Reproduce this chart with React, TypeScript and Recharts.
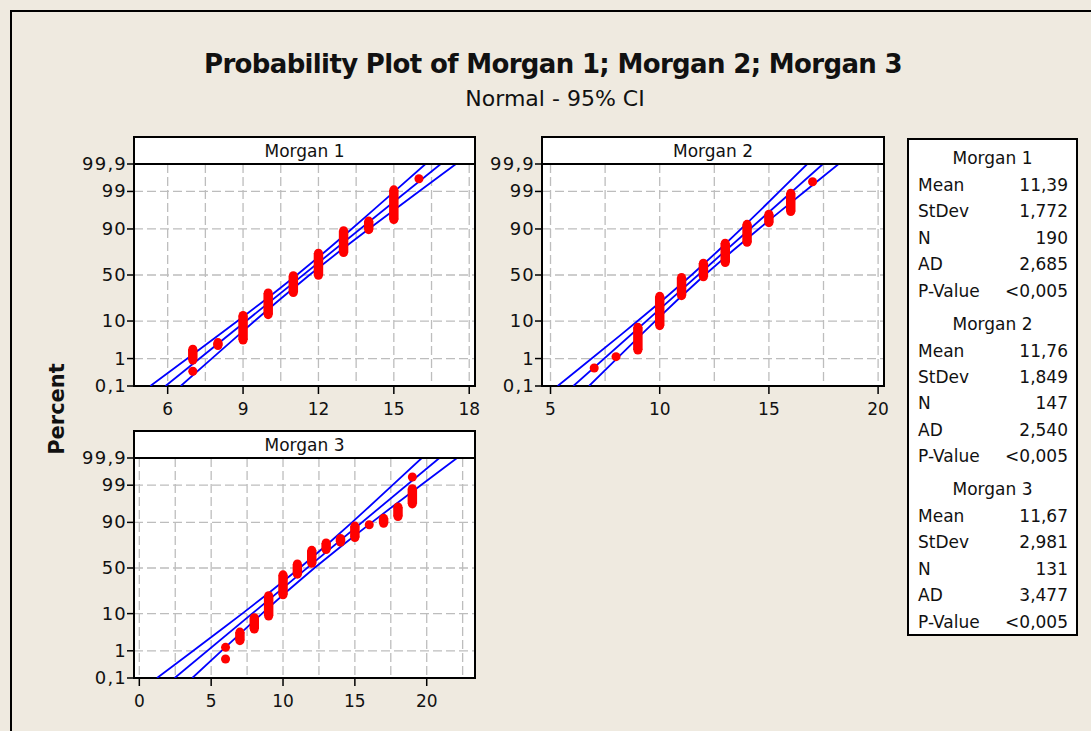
import {
  CartesianGrid,
  ComposedChart,
  Line,
  ReferenceArea,
  Scatter,
  XAxis,
  YAxis,
} from "recharts";

const FONT = '"DejaVu Sans", Verdana, sans-serif';
const BG = "#efeae0";

// probability axis
const pctTicks = [0.1, 1, 10, 50, 90, 99, 99.9];
const pctTickLabels = ["0,1", "1", "10", "50", "90", "99", "99,9"];
const pctGrid = [1, 10, 50, 90, 99];

// percent levels where the 95% CI bands are sampled
const bandPct = [0.1, 1, 5, 10, 25, 50, 75, 90, 95, 99, 99.9];

// Morgan 1
const m1Mean = 11.39;
const m1StDev = 1.772;
const m1N = 190;
const m1AD = 2.685;
const m1X = [7, 7, 8, 9, 10, 11, 12, 13, 14, 15, 16];
const m1Lo = [0.37, 0.89, 2.47, 3.52, 13.5, 31.36, 49.74, 73.37, 89.65, 93.85, 99.63];
const m1Hi = [0.37, 1.94, 2.99, 12.97, 30.83, 49.21, 72.85, 89.13, 93.33, 99.11, 99.63];
const m1BandLo = [5.309, 6.783, 8.089, 8.779, 9.916, 11.138, 12.306, 13.321, 13.918, 15.027, 16.26];
const m1BandHi = [6.52, 7.753, 8.862, 9.459, 10.474, 11.642, 12.864, 14.001, 14.692, 15.997, 17.471];
const m1Ticks = [6, 9, 12, 15, 18];
const m1GridX = [6, 7.5, 9, 10.5, 12, 13.5, 15, 16.5, 18];

// Morgan 2
const m2Mean = 11.76;
const m2StDev = 1.849;
const m2N = 147;
const m2AD = 2.54;
const m2X = [7, 8, 9, 10, 11, 12, 13, 14, 15, 16, 17];
const m2Lo = [0.48, 1.15, 1.83, 7.94, 28.29, 47.96, 63.57, 81.89, 92.74, 96.13, 99.53];
const m2Hi = [0.48, 1.15, 7.26, 27.61, 47.29, 62.89, 81.21, 92.06, 95.45, 98.85, 99.53];
const m2BandLo = [5.328, 6.884, 8.26, 8.987, 10.182, 11.461, 12.676, 13.726, 14.343, 15.485, 16.755];
const m2BandHi = [6.765, 8.035, 9.177, 9.794, 10.844, 12.059, 13.338, 14.533, 15.26, 16.636, 18.192];
const m2Ticks = [5, 10, 15, 20];
const m2GridX = [5, 7.5, 10, 12.5, 15, 17.5, 20];

// Morgan 3
const m3Mean = 11.67;
const m3StDev = 2.981;
const m3N = 131;
const m3AD = 3.477;
const m3X = [6, 6, 7, 8, 9, 10, 11, 12, 13, 14, 15, 16, 17, 18, 19, 19];
const m3Lo = [0.53, 1.29, 2.06, 4.34, 8.9, 22.6, 43.15, 55.33, 69.79, 76.64, 80.44, 88.81, 89.57, 92.62, 96.42, 99.47];
const m3Hi = [0.53, 1.29, 3.58, 8.14, 21.84, 42.39, 54.57, 69.03, 75.88, 79.68, 88.05, 88.81, 91.86, 95.66, 98.71, 99.47];
const m3BandLo = [1.232, 3.754, 5.983, 7.161, 9.094, 11.16, 13.115, 14.802, 15.791, 17.621, 19.655];
const m3BandHi = [3.685, 5.719, 7.549, 8.539, 10.225, 12.181, 14.246, 16.179, 17.357, 19.587, 22.108];
const m3Ticks = [0, 5, 10, 15, 20];
const m3GridX = [0, 2.5, 5, 7.5, 10, 12.5, 15, 17.5, 20, 22.5];

const statLabels = ["Mean", "StDev", "N", "AD", "P-Value"];

// inverse standard normal cdf (Acklam), used for the probability scale
function probit(p: number): number {
  const a = [-39.69683028665376, 220.9460984245205, -275.9285104469687, 138.357751867269, -30.66479806614716, 2.506628277459239];
  const b = [-54.47609879822406, 161.5858368580409, -155.6989798598866, 66.80131188771972, -13.28068155288572];
  const c = [-0.007784894002430293, -0.3223964580411365, -2.400758277161838, -2.549732539343734, 4.374664141464968, 2.938163982698783];
  const d = [0.007784695709041462, 0.3224671290700398, 2.445134137142996, 3.754408661907416];
  const pLow = 0.02425;
  if (p < pLow) {
    const q = Math.sqrt(-2 * Math.log(p));
    return (((((c[0] * q + c[1]) * q + c[2]) * q + c[3]) * q + c[4]) * q + c[5]) /
      ((((d[0] * q + d[1]) * q + d[2]) * q + d[3]) * q + 1);
  }
  if (p <= 1 - pLow) {
    const q = p - 0.5;
    const r = q * q;
    return ((((((a[0] * r + a[1]) * r + a[2]) * r + a[3]) * r + a[4]) * r + a[5]) * q) /
      (((((b[0] * r + b[1]) * r + b[2]) * r + b[3]) * r + b[4]) * r + 1);
  }
  const q = Math.sqrt(-2 * Math.log(1 - p));
  return -(((((c[0] * q + c[1]) * q + c[2]) * q + c[3]) * q + c[4]) * q + c[5]) /
    ((((d[0] * q + d[1]) * q + d[2]) * q + d[3]) * q + 1);
}

const zOf = (pct: number) => probit(pct / 100);
const zTicks = pctTicks.map(zOf);
const zGrid = pctGrid.map(zOf);
const Z_MIN = zOf(0.1);
const Z_MAX = zOf(99.9);

const comma = (v: number, digits: number) => v.toFixed(digits).replace(".", ",");

const pctLabel = (v: number) =>
  pctTickLabels[zTicks.findIndex((t) => Math.abs(t - v) < 1e-6)] ?? "";

function XTick({ x, y, payload }: any) {
  return (
    <text
      x={x}
      y={y}
      dy={19}
      textAnchor="middle"
      style={{ fontSize: "17px", fontFamily: FONT, fill: "#111" }}
    >
      {payload.value}
    </text>
  );
}

function YTick({ x, y, payload }: any) {
  return (
    <text
      x={x + 2}
      y={y}
      dy={6}
      textAnchor="end"
      style={{ fontSize: "18px", letterSpacing: "1.2px", fontFamily: FONT, fill: "#111" }}
    >
      {pctLabel(payload.value)}
    </text>
  );
}

interface PanelProps {
  left: number;
  top: number;
  width: number;
  height: number;
  title: string;
  xDomain: [number, number];
  xTicks: number[];
  gridX: number[];
  xs: number[];
  lo: number[];
  hi: number[];
  bandLo: number[];
  bandHi: number[];
  mean: number;
  sd: number;
}

function ProbPanel(props: PanelProps) {
  const { xs, lo, hi, mean, sd } = props;
  const dots: { x: number; z: number }[] = [];
  xs.forEach((x, i) => {
    dots.push({ x, z: zOf(lo[i]) });
    if (hi[i] !== lo[i]) dots.push({ x, z: zOf(hi[i]) });
  });
  const stacks = xs
    .map((x, i) => ({ x, lo: lo[i], hi: hi[i] }))
    .filter((s) => s.hi !== s.lo);
  const lowBand = props.bandLo.map((x, i) => ({ x, z: zOf(bandPct[i]) }));
  const highBand = props.bandHi.map((x, i) => ({ x, z: zOf(bandPct[i]) }));
  const fit = [
    { x: mean + sd * Z_MIN, z: Z_MIN },
    { x: mean + sd * Z_MAX, z: Z_MAX },
  ];
  const marginTop = 34;
  const yAxisW = 74;
  const marginRight = 10;
  const blue = { stroke: "#0000ff", strokeWidth: 1.8 };

  return (
    <div style={{ position: "absolute", left: props.left, top: props.top }}>
      <ComposedChart
        width={props.width}
        height={props.height}
        margin={{ top: marginTop, right: marginRight, bottom: 5, left: 0 }}
      >
        <CartesianGrid
          fill="#ffffff"
          stroke="#bdbdbd"
          strokeWidth={1.3}
          strokeDasharray="9 4"
          verticalValues={props.gridX}
          horizontalValues={zGrid}
        />
        <XAxis
          type="number"
          dataKey="x"
          domain={props.xDomain}
          ticks={props.xTicks}
          allowDataOverflow
          interval={0}
          height={35}
          axisLine={false}
          tickLine={{ stroke: "#000", strokeWidth: 1.5 }}
          tickSize={8}
          tick={<XTick />}
        />
        <YAxis
          type="number"
          dataKey="z"
          domain={[Z_MIN, Z_MAX]}
          ticks={zTicks}
          allowDataOverflow
          interval={0}
          width={yAxisW}
          axisLine={false}
          tickLine={{ stroke: "#000", strokeWidth: 1.5 }}
          tickSize={7}
          tick={<YTick />}
        />
        <Line data={lowBand} dataKey="z" {...blue} dot={false} activeDot={false} isAnimationActive={false} />
        <Line data={fit} dataKey="z" {...blue} dot={false} activeDot={false} isAnimationActive={false} />
        <Line data={highBand} dataKey="z" {...blue} dot={false} activeDot={false} isAnimationActive={false} />
        {stacks.map((s, i) => (
          <Line
            key={i}
            data={[{ x: s.x, z: zOf(s.lo) }, { x: s.x, z: zOf(s.hi) }]}
            dataKey="z"
            stroke="#ff0000"
            strokeWidth={9.5}
            dot={false}
            activeDot={false}
            isAnimationActive={false}
          />
        ))}
        <Scatter data={dots} dataKey="z" fill="#ff0000" isAnimationActive={false} />
        <ReferenceArea
          x1={props.xDomain[0]}
          x2={props.xDomain[1]}
          y1={Z_MIN}
          y2={Z_MAX}
          fill="none"
          stroke="#000"
          strokeWidth={2}
          ifOverflow="visible"
        />
      </ComposedChart>
      <div
        style={{
          position: "absolute",
          left: yAxisW - 1,
          top: 6,
          width: props.width - yAxisW - marginRight + 2,
          height: marginTop - 5,
          boxSizing: "border-box",
          border: "2px solid #000",
          background: "#fff",
          fontFamily: FONT,
          fontSize: 17,
          lineHeight: `${marginTop - 8}px`,
          textAlign: "center",
          color: "#111",
        }}
      >
        {props.title}
      </div>
    </div>
  );
}

const legendGroups = [
  { name: "Morgan 1", values: [comma(m1Mean, 2), comma(m1StDev, 3), String(m1N), comma(m1AD, 3), "<0,005"] },
  { name: "Morgan 2", values: [comma(m2Mean, 2), comma(m2StDev, 3), String(m2N), comma(m2AD, 3), "<0,005"] },
  { name: "Morgan 3", values: [comma(m3Mean, 2), comma(m3StDev, 3), String(m3N), comma(m3AD, 3), "<0,005"] },
];

function StatsBox() {
  const rowH = 26.4;
  const groupH = 165.5;
  const text = { position: "absolute" as const, fontFamily: FONT, fontSize: 17, lineHeight: "20px", color: "#111" };
  return (
    <div
      style={{
        position: "absolute",
        left: 907,
        top: 138,
        width: 171,
        height: 498,
        boxSizing: "border-box",
        border: "2px solid #000",
        background: "#fff",
      }}
    >
      {legendGroups.map((g, gi) => (
        <div key={g.name}>
          <div style={{ ...text, left: 0, width: 167, textAlign: "center", top: 8 + gi * groupH }}>{g.name}</div>
          {statLabels.map((label, ri) => (
            <div key={label}>
              <div style={{ ...text, left: 9, top: 35 + gi * groupH + ri * rowH }}>{label}</div>
              <div style={{ ...text, right: 8, top: 35 + gi * groupH + ri * rowH }}>{g.values[ri]}</div>
            </div>
          ))}
        </div>
      ))}
    </div>
  );
}

export default function App() {
  return (
    <div
      style={{
        position: "absolute",
        left: 0,
        top: 0,
        width: 1091,
        height: 731,
        background: BG,
        overflow: "hidden",
        fontFamily: FONT,
      }}
    >
      <div
        style={{
          position: "absolute",
          left: 10,
          top: 10,
          width: 1100,
          height: 740,
          borderLeft: "2px solid #000",
          borderTop: "2px solid #000",
        }}
      />
      <div
        style={{
          position: "absolute",
          left: 0,
          width: 1106,
          top: 49,
          textAlign: "center",
          fontSize: 26,
          fontWeight: "bold",
          letterSpacing: -0.65,
          color: "#111",
        }}
      >
        Probability Plot of Morgan 1; Morgan 2; Morgan 3
      </div>
      <div
        style={{
          position: "absolute",
          left: 0,
          width: 1110,
          top: 86,
          textAlign: "center",
          fontSize: 22,
          color: "#111",
        }}
      >
        Normal - 95% CI
      </div>
      <div
        style={{
          position: "absolute",
          left: 57,
          top: 409,
          transform: "translate(-50%, -50%) rotate(-90deg)",
          fontSize: 21,
          fontWeight: "bold",
          color: "#111",
          whiteSpace: "nowrap",
        }}
      >
        Percent
      </div>
      <ProbPanel
        left={60}
        top={130}
        width={425}
        height={296}
        title="Morgan 1"
        xDomain={[4.66, 18.23]}
        xTicks={m1Ticks}
        gridX={m1GridX}
        xs={m1X}
        lo={m1Lo}
        hi={m1Hi}
        bandLo={m1BandLo}
        bandHi={m1BandHi}
        mean={m1Mean}
        sd={m1StDev}
      />
      <ProbPanel
        left={468}
        top={130}
        width={426}
        height={296}
        title="Morgan 2"
        xDomain={[4.61, 20.27]}
        xTicks={m2Ticks}
        gridX={m2GridX}
        xs={m2X}
        lo={m2Lo}
        hi={m2Hi}
        bandLo={m2BandLo}
        bandHi={m2BandHi}
        mean={m2Mean}
        sd={m2StDev}
      />
      <ProbPanel
        left={60}
        top={424}
        width={425}
        height={294}
        title="Morgan 3"
        xDomain={[-0.37, 23.36]}
        xTicks={m3Ticks}
        gridX={m3GridX}
        xs={m3X}
        lo={m3Lo}
        hi={m3Hi}
        bandLo={m3BandLo}
        bandHi={m3BandHi}
        mean={m3Mean}
        sd={m3StDev}
      />
      <StatsBox />
    </div>
  );
}
